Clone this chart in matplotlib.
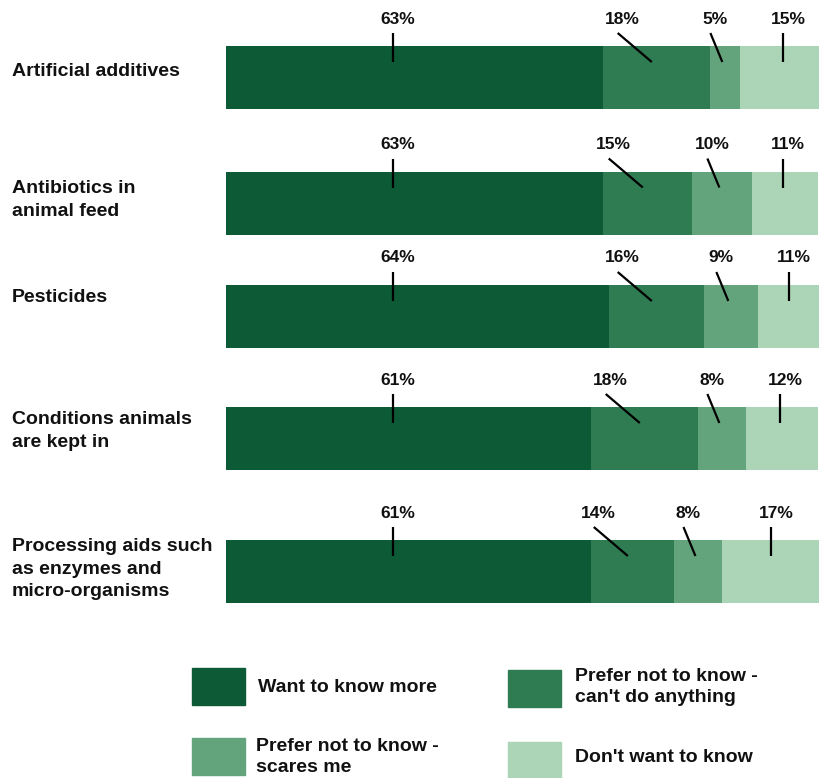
import matplotlib
matplotlib.use("Agg")
import matplotlib.pyplot as plt
from matplotlib.patches import Rectangle

plt.rcParams['font.family'] = ['Liberation Sans', 'DejaVu Sans']

# data
categories = [
    "Artificial additives",
    "Antibiotics in\nanimal feed",
    "Pesticides",
    "Conditions animals\nare kept in",
    "Processing aids such\nas enzymes and\nmicro-organisms",
]
want_more = [63, 63, 64, 61, 61]
cant_do = [18, 15, 16, 18, 14]
scares_me = [5, 10, 9, 8, 8]
dont_want = [15, 11, 11, 12, 17]

series_names = [
    "Want to know more",
    "Prefer not to know -\ncan't do anything",
    "Prefer not to know -\nscares me",
    "Don't want to know",
]
colors = ["#0c5a36", "#2f7b52", "#64a47c", "#acd4b6"]

# layout (pixels)
W, H = 820, 778
bar_y = [77.5, 203, 316.5, 438.5, 571.5]
bar_h = 63
label_y = [72, 200, 298, 431, 569]
x0 = 226
px_per_pct = 5.98

fig = plt.figure(figsize=(W / 100, H / 100), dpi=100)
ax = fig.add_axes([x0 / W, 0, (W - x0) / W, 1])
ax.set_xlim(0, (W - x0) / px_per_pct)
ax.set_ylim(H, 0)
ax.axis("off")

series = [want_more, cant_do, scares_me, dont_want]
left = [0] * len(categories)
for vals, col in zip(series, colors):
    ax.barh(bar_y, vals, height=bar_h, left=left, color=col, edgecolor="none")
    left = [l + v for l, v in zip(left, vals)]

# percentage labels with leader lines (offsets from segment centre, in %)
line_top = [None, -6.5, -2.5, -0.3]
line_bot = [None, -0.8, -0.5, -0.3]
for i in range(len(categories)):
    start = 0
    top = bar_y[i] - bar_h / 2
    for k, vals in enumerate(series):
        v = vals[i]
        mid = start + v / 2
        if k == 0:
            xt = xb = 28
        else:
            xt = mid + line_top[k]
            xb = mid + line_bot[k]
        ax.plot([xt, xb], [top - 13, top + 16], color="black", lw=1.6,
                solid_capstyle="butt", clip_on=False)
        ax.text(xt + 0.8, top - 27, f"{v}%", ha="center", va="center",
                fontsize=12.5, fontweight="bold", color="#111111")
        start += v

# category labels
for cat, ly in zip(categories, label_y):
    fig.text(12 / W, 1 - ly / H, cat, ha="left", va="center", fontsize=14,
             fontweight="bold", linespacing=1.42, color="#111111")

# legend
leg_boxes = [(192, 668), (508, 670), (192, 738), (508, 742)]
leg_text = [(258, 688), (575, 687), (256, 757), (575, 758)]
for name, col, (bx, by), (tx, ty) in zip(series_names, colors, leg_boxes, leg_text):
    fig.patches.append(Rectangle((bx / W, 1 - (by + 37) / H), 53 / W, 37 / H,
                                 transform=fig.transFigure, color=col))
    fig.text(tx / W, 1 - ty / H, name, ha="left", va="center", fontsize=14,
             fontweight="bold", linespacing=1.36, color="#111111")

fig.savefig("out.png", dpi=100)
